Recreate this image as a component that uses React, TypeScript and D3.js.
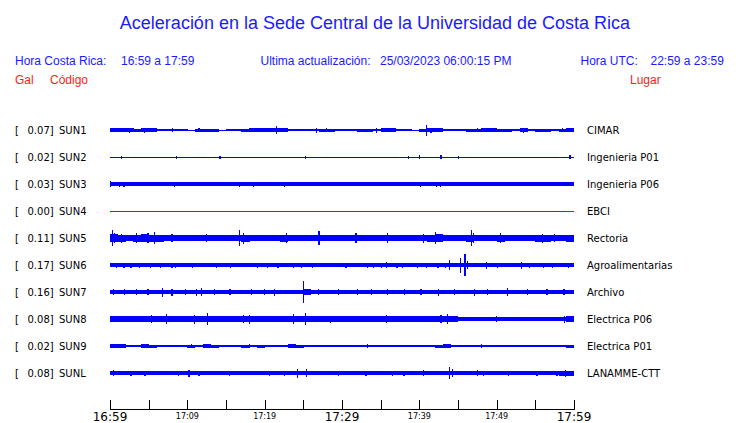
import React from 'react';
import * as d3 from 'd3';

const codes = ['SUN1', 'SUN2', 'SUN3', 'SUN4', 'SUN5', 'SUN6', 'SUN7', 'SUN8', 'SUN9', 'SUNL'];
const places = ['CIMAR', 'Ingenieria P01', 'Ingenieria P06', 'EBCI', 'Rectoria', 'Agroalimentarias', 'Archivo', 'Electrica P06', 'Electrica P01', 'LANAMME-CTT'];
const peaks = [0.07, 0.02, 0.03, 0.0, 0.11, 0.17, 0.16, 0.08, 0.02, 0.08];
const traceColors = ['#0000ff', '#0000ff', '#0000ff', '#ff0000', '#0000ff', '#0000ff', '#0000ff', '#0000ff', '#0000ff', '#0000ff'];
const tickLabels = ['16:59', '17:09', '17:19', '17:29', '17:39', '17:49', '17:59'];
const tickMajor = [true, false, false, true, false, false, true];

// per-minute envelope half-amplitudes (minutes 0..59 after 16:59)
const env1 = [1.6,1.6,1.6,1.5,1.6,1.6,0.8,1.2,1.2,0.6, 0.5,1.5,1.5,1.5,0.5,1.2,1.2,1.5,1.6,1.6, 1.6,1.6,1.6,1.2,1.2,1.2,0.8,1.5,1.5,0.6, 0.8,0.6,1.5,1.5,1.2,1.6,1.6,1.2,1.2,0.5, 1.5,1.6,1.6,0.8,1.2,1.2,1.5,1.5,1.6,1.6, 1.5,1.5,0.6,1.6,0.8,1.5,1.5,0.8,1.5,1.6];
const env2 = [0.5,0.5,0.5,0.5,0.5,0.5,0.5,0.5,0.5,0.5, 0.5,0.5,0.5,0.5,0.5,0.5,0.5,0.5,0.5,0.5, 0.5,0.5,0.5,0.5,0.5,0.5,0.5,0.5,0.5,0.5, 0.5,0.5,0.5,0.5,0.5,0.5,0.5,0.5,0.5,0.5, 0.5,0.5,0.5,0.5,0.5,0.5,0.5,0.5,0.5,0.5, 0.5,0.5,0.5,0.5,0.5,0.5,0.5,0.5,0.5,0.5];
const env3 = [1.9,1.9,1.8,1.8,1.8,1.8,1.8,1.8,1.8,1.8, 1.8,1.8,1.8,1.8,1.8,1.8,1.8,1.8,1.8,1.8, 1.8,1.8,1.8,1.8,1.8,1.8,1.8,1.8,1.8,1.8, 1.8,1.8,1.8,1.8,1.8,1.8,1.8,1.8,1.8,1.8, 1.9,1.8,1.9,1.8,1.8,1.8,1.8,1.8,1.8,1.8, 1.8,1.8,1.8,1.8,1.8,1.8,1.8,1.8,1.8,1.8];
const env4 = [0.5,0.5,0.5,0.5,0.5,0.5,0.5,0.5,0.5,0.5, 0.5,0.5,0.5,0.5,0.5,0.5,0.5,0.5,0.5,0.5, 0.5,0.5,0.5,0.5,0.5,0.5,0.5,0.5,0.5,0.5, 0.5,0.5,0.5,0.5,0.5,0.5,0.5,0.5,0.5,0.5, 0.5,0.5,0.5,0.5,0.5,0.5,0.5,0.5,0.5,0.5, 0.5,0.5,0.5,0.5,0.5,0.5,0.5,0.5,0.5,0.5];
const env5 = [3.8,3.5,3.3,3.5,3.8,3.5,3.5, 3.0,3.2,3.0,3.2,3.0,3.0,3.2,3.0,3.0,3.2, 3.5,3.2,3.0,3.0, 3.2,3.5,3.2,3.0,3.0, 3.0,3.2,3.0,3.0,3.2, 3.2,3.3,3.0,3.0,3.2, 3.2,3.0,3.2,3.0,3.3, 3.5,3.8,3.2,3.0,3.2, 3.5,3.2,3.0,3.2,3.5, 3.3,3.0,3.2,3.3,3.5, 3.5,3.2,3.3,3.5];
const env6 = [1.7,1.6,1.6,1.7,1.6,1.6,1.6,1.6,1.7,1.6, 1.6,1.6,1.6,1.6,1.6,1.6,1.6,1.6,1.6,1.6, 1.7,1.6,1.6,1.6,1.6,1.6,1.6,1.6,1.6,1.6, 1.6,1.6,1.6,1.7,1.8,2.0,1.6,1.7,1.6,1.6, 1.6,1.7,1.6,1.8,2.0,2.0,2.0,1.6,1.8,1.6, 1.6,1.6,1.6,1.8,1.6,1.6,1.6,1.6,1.6,1.7];
const env7 = [2.4,2.2,2.4,2.2,2.4,2.2,2.4,2.2,2.2,2.2, 2.2,2.4,2.4,2.2,2.2,2.2,2.2,2.2,2.2,2.2, 2.2,2.4,2.2,2.2,2.4,2.6,2.2,2.2,2.2,2.2, 2.2,2.2,2.2,2.2,2.2,2.2,2.2,2.2,2.2,2.2, 2.2,2.2,2.4,2.2,2.2,2.2,2.2,2.4,2.2,2.2, 2.2,2.4,2.2,2.2,2.2,2.2,2.2,2.2,2.2,2.4];
const env8 = [2.8,2.8,2.8,2.8,2.8,3.2,3.2,3.3,3.2,3.0, 3.0,3.3,3.3,3.0,2.8,2.8,2.8,3.2,3.2,2.8, 2.8,2.8,2.8,3.3,3.3,3.3,2.8,2.8,2.8,2.8, 2.8,2.8,2.8,2.8,2.8,3.0,3.0,2.8,2.8,2.8, 2.8,2.8,3.2,3.2,2.6,2.4,2.4,2.4,2.4,2.4, 2.4,2.4,2.4,2.4,2.4,2.4,2.4,2.4,2.4,2.6];
const env9 = [1.6,1.6,1.2,0.6,1.6,1.5,0.8,1.2,0.8,1.2, 1.5,0.8,1.6,1.5,0.6,0.6,0.8,1.5,0.8,1.5, 1.2,0.8,1.2,1.6,1.5,0.6,0.8,1.2,0.6,0.6, 0.8,0.6,0.8,1.2,1.2,0.8,0.6,0.6,1.2,0.8, 0.8,0.6,1.5,1.6,0.8,1.2,0.8,1.2,0.8,0.6, 0.8,0.8,0.6,0.8,0.6,0.6,0.6,0.8,0.8,1.5];
const envL = [2.0,1.8,1.8,1.8,1.8,1.8,1.8,1.8,1.8,1.8, 1.9,1.8,1.8,1.8,1.8,1.8,1.8,1.8,1.8,1.8, 1.8,1.8,1.8,1.8,2.2,2.0,1.8,1.8,1.8,1.8, 1.8,1.8,1.8,1.8,1.8,1.8,1.8,1.8,1.8,1.8, 1.8,1.8,1.8,2.2,2.2,1.8,1.8,1.8,1.8,1.8, 1.8,1.8,1.8,1.8,1.8,1.8,1.8,1.8,2.5,2.5];

// [minute, half-amplitude] of visible spikes
const spikes1: [number, number][] = [[2.5, 2.5], [4.4, 2.5], [8.1, 2], [11.5, 2], [19.0, 2], [21.5, 4], [26.7, 2.5], [28.0, 2], [34.4, 2.5], [36.5, 2], [40.9, 5.5], [41.5, 2.5], [47.5, 2], [53.5, 2.5], [58.5, 2]];
const spikes2: [number, number][] = [[1.5, 1.5], [8.6, 1.5], [14.2, 1.5], [25.3, 1.5], [38.6, 1.5], [40.0, 2], [42.7, 2], [42.8, 2], [45.0, 1.5], [59.4, 2], [59.5, 2]];
const spikes3: [number, number][] = [[0.05, 3], [1.2, 2.5], [1.8, 2.5], [8.3, 2.5], [16.7, 2.5], [18.5, 2.5], [22.5, 2.5], [24.6, 2.2], [31.9, 2.2], [40.1, 2.5], [42.2, 2.5], [42.7, 2.5]];
const spikes4: [number, number][] = [];
const spikes5: [number, number][] = [[0.3, 7.8], [0.6, 5], [1.5, 4.5], [3.4, 5], [4.9, 5], [5.7, 6], [8.0, 4], [12.5, 4], [16.7, 8], [17.2, 5.5], [22.8, 5], [27.0, 7], [31.8, 5], [35.9, 5], [40.5, 4.5], [42.1, 6], [46.7, 8], [47.0, 5], [50.5, 5], [55.9, 4.5], [57.5, 4]];
const spikes6: [number, number][] = [[0.8, 2.5], [1.8, 2.5], [2.7, 2.5], [3.8, 2.5], [5.2, 2.5], [6.5, 2.5], [8.0, 2.5], [8.5, 2.5], [10.7, 2.5], [13.8, 2.5], [15.6, 2.5], [19.1, 2.5], [20.4, 2.5], [21.7, 2.5], [23.7, 2.5], [24.7, 2.5], [26.2, 2.5], [30.5, 2.5], [33.3, 2.5], [34.1, 2.5], [35.1, 2.5], [35.7, 3], [37.1, 2.5], [37.8, 2.5], [39.8, 2.5], [40.9, 2.5], [42.4, 2.5], [43.4, 2.5], [43.9, 5], [45.3, 7.5], [45.9, 11], [46.2, 4], [48.7, 3.5], [50.1, 2.5], [53.2, 3.5], [54.2, 2.5], [56.0, 2.5], [57.2, 2.5], [59.3, 2.5]];
const spikes7: [number, number][] = [[0.4, 3], [1.9, 3], [3.4, 3], [4.9, 3], [6.8, 4.5], [8.0, 3.5], [9.7, 3], [11.2, 3.5], [11.8, 4], [13.5, 3], [15.5, 3], [18.3, 3], [20.0, 3], [21.3, 3.5], [25.0, 11], [26.9, 3], [29.5, 3], [32.0, 3], [33.8, 3], [35.9, 3], [38.1, 3], [40.2, 3], [42.5, 3.5], [44.5, 3], [47.1, 3.5], [48.8, 3], [51.4, 4], [54.0, 3], [56.5, 3], [58.7, 3]];
const spikes8: [number, number][] = [[5.4, 4], [7.3, 4.7], [10.9, 4.5], [12.6, 6], [17.2, 4], [18.0, 4.5], [23.7, 5], [25.3, 6], [28.5, 3.5], [35.7, 4], [42.8, 4], [43.6, 5], [50.0, 3], [58.8, 3.5]];
const spikes9: [number, number][] = [[1.5, 2], [5.0, 1.8], [10.5, 1.8], [13.0, 1.8], [18.0, 1.8], [24.0, 2], [33.3, 1.8], [43.5, 2], [48.0, 1.8]];
const spikesL: [number, number][] = [[0.4, 3], [2.7, 2.5], [4.5, 2.5], [8.8, 2.5], [10.2, 3.5], [11.5, 2.5], [15.4, 2.5], [20.6, 2.5], [22.5, 2.5], [24.2, 4.5], [25.4, 4], [29.5, 2.5], [33.1, 2.5], [36.5, 2.5], [38.0, 2.5], [40.5, 3], [43.9, 6], [44.3, 4], [47.5, 3], [48.3, 2.5], [51.5, 2.5], [55.2, 2.5], [57.8, 2.5], [58.9, 3.5]];

const envelopes = [env1, env2, env3, env4, env5, env6, env7, env8, env9, envL];
const spikes = [spikes1, spikes2, spikes3, spikes4, spikes5, spikes6, spikes7, spikes8, spikes9, spikesL];

const W = 740;
const H = 423;
const BLUE = '#1a1aff';
const RED = '#ff1a1a';
const SANS = '"Liberation Sans", Arial, sans-serif';
const DEJAVU = '"DejaVu Sans", sans-serif';

export default function App() {
  const x = d3.scaleLinear().domain([0, 60]).range([110, 574]);
  const y = d3.scalePoint<string>().domain(codes).range([130, 373]);
  const amp = d3.scaleLinear().domain([0, 10]).range([0, 10]);
  const ticks = d3.range(0, 61, 5);
  const labelTicks = d3.range(0, 61, 10);

  return (
    <svg width={W} height={H} style={{ position: 'absolute', left: 0, top: 0, display: 'block', background: '#fff' }}>
      <rect x={0} y={0} width={W} height={H} fill="#fff" />
      <text x={375} y={28.5} textAnchor="middle" fontFamily={SANS} fontSize={18} fill={BLUE}>
        Aceleración en la Sede Central de la Universidad de Costa Rica
      </text>
      <g fontFamily={SANS} fontSize={12} fill={BLUE}>
        <text x={15} y={65}>Hora Costa Rica:</text>
        <text x={121} y={65}>16:59 a 17:59</text>
        <text x={260.5} y={65}>Ultima actualización:</text>
        <text x={380} y={65}>25/03/2023 06:00:15 PM</text>
        <text x={580.5} y={65}>Hora UTC:</text>
        <text x={650.5} y={65}>22:59 a 23:59</text>
      </g>
      <g fontFamily={SANS} fontSize={12} fill={RED}>
        <text x={15} y={84}>Gal</text>
        <text x={50} y={84}>Código</text>
        <text x={630} y={84}>Lugar</text>
      </g>

      {codes.map((c, i) => {
        const cy = y(c) as number;
        return (
          <g key={c}>
            <g fontFamily={DEJAVU} fontSize={10} fill="#000">
              <text x={15} y={cy + 3.5}>[</text>
              <text x={27.5} y={cy + 3.5}>{peaks[i].toFixed(2)}]</text>
              <text x={59} y={cy + 3.5}>{c}</text>
              <text x={587} y={cy + 3.5}>{places[i]}</text>
            </g>
            <g fill={traceColors[i]} shapeRendering="crispEdges">
              {envelopes[i].map((a, m) => (
                <rect key={'e' + m} x={x(m)} width={x(m + 1) - x(m) + 0.3} y={cy - amp(a)} height={2 * amp(a)} />
              ))}
              {spikes[i].map(([t, a], k) => (
                <rect key={'s' + k} x={x(t) - 0.5} width={1.2} y={cy - amp(a)} height={2 * amp(a)} />
              ))}
            </g>
          </g>
        );
      })}

      <g stroke="#000" strokeWidth={1} shapeRendering="crispEdges">
        <line x1={x(0)} x2={x(60)} y1={409.5} y2={409.5} />
        {ticks.map((t) => (
          <line key={t} x1={Math.round(x(t)) + 0.5} x2={Math.round(x(t)) + 0.5} y1={400} y2={409.5} />
        ))}
      </g>
      <g fontFamily={DEJAVU} fill="#000" textAnchor="middle">
        {labelTicks.map((t, i) => (
          <text key={t} x={x(t)} y={tickMajor[i] ? 421 : 418.5} fontSize={tickMajor[i] ? 12 : 8}>
            {tickLabels[i]}
          </text>
        ))}
      </g>
    </svg>
  );
}
